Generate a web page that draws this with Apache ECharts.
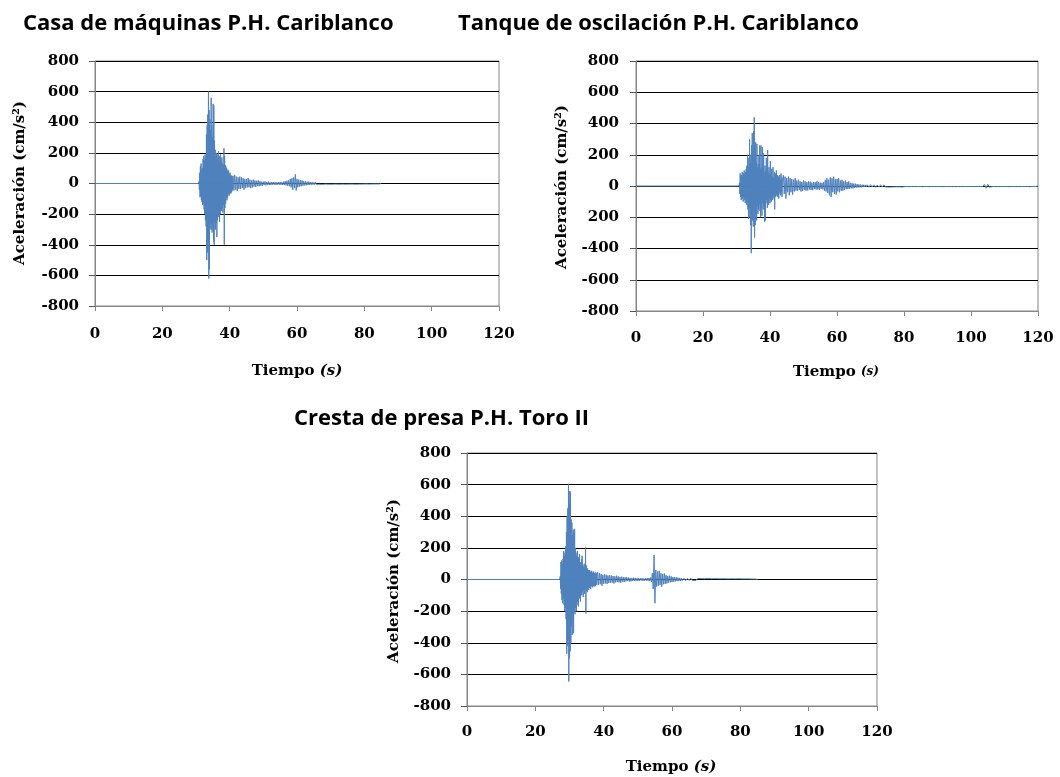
<!DOCTYPE html>
<html><head><meta charset="utf-8">
<script src="https://cdn.jsdelivr.net/npm/echarts@6/dist/echarts.min.js"></script>
<style>html,body{margin:0;padding:0;background:#fff}#c{width:1060px;height:777px}</style>
</head><body><div id="c"></div><script>
// ---------- tick labels ----------
const xTicks = [0, 20, 40, 60, 80, 100, 120];
const yTicks = [-800, -600, -400, -200, 0, 200, 400, 600, 800];
const tanqueYLabels = {'-800':'-800','-600':'-600','-400':'-400','-200':'200','0':'0','200':'200','400':'400','600':'600','800':'800'};

const titles = ['Casa de máquinas P.H. Cariblanco', 'Tanque de oscilación P.H. Cariblanco', 'Cresta de presa P.H. Toro II'];
const xTitle = 'Tiempo';
const xUnit = '(s)';
const yTitle = 'Aceleración (cm/s²)';

// ---------- Casa de máquinas P.H. Cariblanco (cm/s²) ----------
const casaQuiet = [[0, 0], [30.7, 0]];
const casaStrongStart = 30.8, casaStrongStep = 0.1;
const casaStrong = [
0,15,-40,70,-90,110,-80,130,-110,90,
-120,100,-140,160,-130,180,-170,150,-200,190,
-240,170,-280,320,-500,380,-450,450,-380,600,
-620,480,-560,420,-300,350,-260,560,-300,380,
-320,300,-280,520,-380,510,-400,280,-250,220,
-300,180,-260,200,-350,190,-240,160,-220,210,
-200,180,-250,140,-200,190,-170,150,-180,170,
-160,130,-190,120,-140,230,-400,180,-160,120,
-130,110,-90,100,-110,80,-90,90,-70,80,
-80,60,-70,70,-60,55,-65,50,-55,50,
-45];
const casaCodaStart = 41.0, casaCodaStep = 0.25;
const casaCoda = [
50,-45,55,-40,45,-50,40,-35,
45,-35,40,-30,35,-40,30,-30,
30,-25,35,-25,25,-30,20,-25,
25,-20,20,-22,18,-15,20,-18,15,-15,12,-14,
12,-10,14,-12,10,-9,12,-10,8,-10,9,-8,
10,-8,9,-10,8,-7,9,-8,10,-9,8,-10,
12,-10,15,-12,18,-15,20,-18,
30,-25,35,-40,40,-30,60,-45,
30,-25,25,-20,22,-18,20,-15,
15,-12,14,-12,12,-10,12,-10,
10,-8,9,-8,8,-7,8,-6];
const casaTailStart = 66, casaTailStep = 0.5;
const casaTail = [6,-5,5,-6,5,-4,6,-5,4,-5,5,-4,5,-5,4,-4,5,-5,4,-4,5,-4,4,-5,4,-4,3,-4,4,-3,4,-4,3,-3,4,-3,3,-3,0];

// ---------- Tanque de oscilación P.H. Cariblanco ----------
const tanqueQuiet = [[0, 0], [30.7, 0]];
const tanqueStrongStart = 30.8, tanqueStrongStep = 0.1;
const tanqueStrong = [
0,20,-50,80,-70,60,-90,70,-60,90,
-80,60,-100,80,-70,100,-90,70,-110,90,
-80,110,-120,130,-100,200,-150,120,-210,180,
-140,300,-200,150,-250,200,-430,260,-180,340,
-220,180,-260,350,-150,440,-330,200,-250,280,
-170,150,-220,270,-130,120,-180,140,-150,200,
-120,260,-160,110,-200,260,-140,120,-190,250,
-110,100,-150,210,-120,90,-230,130,-220,100,
-110,180,-90,80,-140,230,-100,90,-120,120,
-80,70,-110,160,-90,70,-100,110,-70,60,
-90,120,-60,50,-80,90,-150,60,-70,80,
-50,100,-60,40,-70,70,-50,60,-80,50,
-40,70,-50,40,-60,80,-40,50,-70,40];
const tanqueCodaStart = 44.0, tanqueCodaStep = 0.25;
const tanqueCoda = [
70,-50,60,-80,50,-40,60,-60,
50,-40,45,-55,40,-35,50,-30,
35,-30,40,-25,30,-35,25,-30,
35,-25,30,-30,25,-28,30,-22,
28,-25,22,-26,25,-20,24,-22,
30,-22,25,-25,22,-18,20,-22,
25,-30,40,-35,50,-45,40,-60,
55,-70,50,-40,60,-50,45,-55,
45,-35,50,-40,35,-30,40,-30,
30,-25,35,-20,25,-20,30,-18,
20,-15,18,-15,15,-12,15,-10,
12,-10,10,-8,10,-9,8,-7,8,-6,7,-6];
const tanqueTailStart = 69, tanqueTailStep = 0.5;
const tanqueTail = [
8,-7,9,-6,7,-8,6,-7,8,-6,7,-6,6,-7,5,-6,6,-5,7,-5,5,-6,
4,-3,3,-4,3,-3,4,-3,3,-3,4,-4,3,-3,3,-4,3,-3,4,-3,3,-3,3,-4,
3,-3,4,-3,3,-3,3,-4,3,-3,4,-3,3,-3,3,-3,4,-3,3,-4,3,-3,3,-3,
10,-14,12,-8,
4,-3,3,-4,3,-3,4,-3,3,-3,3,-4,3,-3,3,-3,4,-3,3,-3,3,-3,3,-4,3,-3,3,-3,0];

// ---------- Cresta de presa P.H. Toro II ----------
const toroQuiet = [[0, 0], [27.1, 0]];
const toroStrongStart = 27.2, toroStrongStep = 0.1;
const toroStrong = [
0,20,-60,110,-90,120,-130,100,-150,130,
-120,180,-160,150,-200,170,-180,210,-250,300,
-470,400,-420,450,-380,605,-645,480,-500,560,
-455,550,-400,380,-300,360,-350,280,-250,315,
-340,300,-200,320,-220,200,-180,170,-200,150,
-160,180,-140,120,-170,140,-110,160,-120,100,
-140,110,-90,130,-100,150,-80,90,-110,80,
-70,100,-90,70,-60,204,-214,90,-70,60,
-80,70,-50,60,-65,50,-55,60,-45,50,
-60,45,-40,55,-45,40,-50,45,-40,50,
-35,40,-45,35,-40,45,-30,40,-35,30];
const toroCodaStart = 38.25, toroCodaStep = 0.25;
const toroCoda = [
45,-35,40,-30,35,-40,30,-28,
32,-25,30,-28,25,-22,28,-20,
25,-20,22,-25,20,-18,24,-16,
20,-18,16,-20,18,-14,15,-16,
14,-12,15,-10,12,-13,10,-12,
10,-9,11,-8,10,-9,8,-10,
9,-8,8,-7,9,-8,7,-8,
8,-7,9,-8,10,-9,12,-15,
40,-60,155,-150,60,-45,50,-40,
55,-35,40,-45,35,-30,38,-28,
28,-25,22,-20,24,-18,20,-16,
16,-14,15,-12,14,-10,12,-10,
10,-8,9,-8];
const toroTailStart = 63.5, toroTailStep = 0.5;
const toroTail = [
8,-7,7,-6,8,-6,6,-7,7,-5,6,-6,5,-6,7,-5,5,-5,6,-5,
5,-6,5,-4,5,-5,4,-5,5,-4,4,-4,5,-4,4,-4,4,-3,4,-3,3,-3,3,0];

// ---------- build ----------
function sampled(start, step, vals) { return vals.map((v, i) => [+(start + i * step).toFixed(3), v]); }
const casaData = casaQuiet.concat(sampled(casaStrongStart, casaStrongStep, casaStrong), sampled(casaCodaStart, casaCodaStep, casaCoda), sampled(casaTailStart, casaTailStep, casaTail));
const tanqueData = tanqueQuiet.concat(sampled(tanqueStrongStart, tanqueStrongStep, tanqueStrong), sampled(tanqueCodaStart, tanqueCodaStep, tanqueCoda), sampled(tanqueTailStart, tanqueTailStep, tanqueTail));
const toroData = toroQuiet.concat(sampled(toroStrongStart, toroStrongStep, toroStrong), sampled(toroCodaStart, toroCodaStep, toroCoda), sampled(toroTailStart, toroTailStep, toroTail));

const tickFont = {fontFamily: 'DejaVu Serif', fontWeight: 'bold', fontSize: 15, color: '#000'};
const grids = [
  {left: 95, top: 61, width: 404, height: 245},
  {left: 636, top: 61, width: 402, height: 250},
  {left: 467, top: 453, width: 410, height: 253}
];
function xAx(i, margin) {
  return {type: 'value', gridIndex: i, min: xTicks[0], max: xTicks[xTicks.length - 1], interval: xTicks[1] - xTicks[0],
    axisLine: {show: true, onZero: false, lineStyle: {color: '#868686', width: 1}},
    axisTick: {show: true, length: 5, lineStyle: {color: '#868686'}},
    axisLabel: Object.assign({margin: margin, showMinLabel: true, showMaxLabel: true}, tickFont),
    splitLine: {show: false}};
}
function yAx(i, margin, fmt) {
  return {type: 'value', gridIndex: i, min: yTicks[0], max: yTicks[yTicks.length - 1], interval: yTicks[1] - yTicks[0],
    axisLine: {show: true, lineStyle: {color: '#868686', width: 1}},
    axisTick: {show: true, length: 6, lineStyle: {color: '#555'}},
    axisLabel: Object.assign({margin: margin, formatter: fmt}, tickFont),
    splitLine: {show: true, lineStyle: {color: '#000', width: 1}}};
}
const lineCol = '#4F81BD';
function ser(i, data) {
  return {type: 'line', xAxisIndex: i, yAxisIndex: i, data: data, symbol: 'none', showSymbol: false,
    lineStyle: {color: lineCol, width: 1}, itemStyle: {color: lineCol}, animation: false, z: 5};
}
function titleText(txt, x, y) {
  return {type: 'text', x: x, y: y, style: {text: txt, font: 'bold 22px "Open Sans"', fill: '#000', align: 'left', textAlign: 'left', verticalAlign: 'middle', textVerticalAlign: 'middle'}};
}
function xTitleText(x, y, unitSize) {
  return {type: 'text', x: x, y: y, style: {text: '{a|' + xTitle + ' }{b|' + xUnit + '}', fill: '#000', align: 'center', textAlign: 'center', verticalAlign: 'middle', textVerticalAlign: 'middle',
    rich: {a: {fontFamily: 'DejaVu Serif', fontWeight: 'bold', fontSize: 15, fill: '#000', color: '#000'},
           b: {fontFamily: 'DejaVu Serif', fontWeight: 'bold', fontStyle: 'italic', fontSize: unitSize, fill: '#000', color: '#000'}}}};
}
function yTitleText(x, y) {
  return {type: 'text', x: x, y: y, rotation: Math.PI / 2, style: {text: yTitle, font: 'bold 15px "DejaVu Serif"', fill: '#000', align: 'center', textAlign: 'center', verticalAlign: 'middle', textVerticalAlign: 'middle'}};
}

const chart = echarts.init(document.getElementById('c'), null, {renderer: 'canvas'});
chart.setOption({
  animation: false,
  backgroundColor: '#fff',
  grid: grids.map(g => Object.assign({show: true, borderColor: '#868686', borderWidth: 1, backgroundColor: 'transparent'}, g)),
  xAxis: [xAx(0, 21), xAx(1, 20), xAx(2, 19)],
  yAxis: [yAx(0, 16), yAx(1, 17, v => tanqueYLabels[String(v)]), yAx(2, 16)],
  series: [ser(0, casaData), ser(1, tanqueData), ser(2, toroData)],
  graphic: [
    titleText(titles[0], 23, 24),
    titleText(titles[1], 458, 24),
    titleText(titles[2], 294, 419),
    xTitleText(297, 371, 15),
    xTitleText(836, 372, 12),
    xTitleText(671, 767, 15),
    yTitleText(20, 183),
    yTitleText(562, 187),
    yTitleText(394, 581)
  ]
});
</script></body></html>
